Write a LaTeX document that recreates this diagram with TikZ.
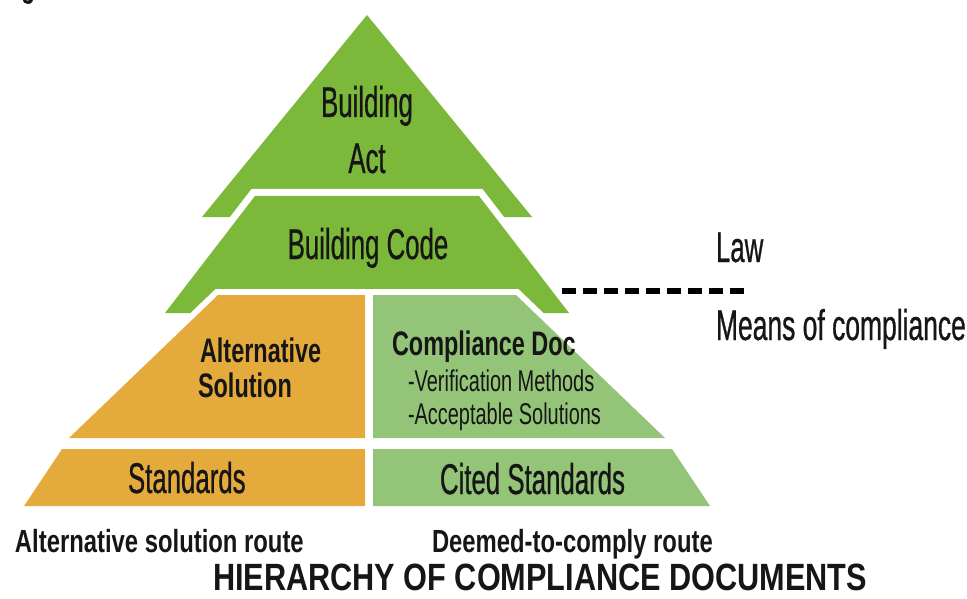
\documentclass[tikz,border=0pt]{standalone}
\usepackage{fontspec}
\setmainfont{Liberation Sans}
% condensed cuts of the sans face used for all labels
\newfontfamily\tierfont[FakeStretch=0.60, FakeBold=0.6]{Liberation Sans}
\newfontfamily\docfont[FakeStretch=0.69]{Liberation Sans}
\newfontfamily\subfont[FakeStretch=0.665]{Liberation Sans}
\newfontfamily\routefont[FakeStretch=0.745]{Liberation Sans}
\newfontfamily\titlefont[FakeStretch=0.807]{Liberation Sans}

\definecolor{actgreen}{RGB}{124,184,58}
\definecolor{docgreen}{RGB}{147,196,119}
\definecolor{altorange}{RGB}{229,170,60}
\definecolor{inkblack}{RGB}{22,22,22}

\tikzset{
  halo/.style={fill=white, draw=white, line width=#1, line join=miter},
  tierfill/.style={fill=#1},
  lbl/.style={inner sep=0pt, outer sep=0pt, anchor=base west, text=inkblack},
  clbl/.style={inner sep=0pt, outer sep=0pt, anchor=base, text=inkblack},
  bigtxt/.style={font=\tierfont\fontsize{43}{48}\selectfont},
  boldtxt/.style={font=\docfont\bfseries\fontsize{34}{40}\selectfont},
  subtxt/.style={font=\subfont\fontsize{30}{34}\selectfont},
  routetxt/.style={font=\routefont\bfseries\fontsize{32}{36}\selectfont},
  titletxt/.style={font=\titlefont\bfseries\fontsize{38}{42}\selectfont},
  divider/.style={draw=black, line width=6pt, dash pattern=on 14pt off 7pt}
}

\begin{document}
\begin{tikzpicture}[x=1pt, y=-1pt]
\useasboundingbox (0,0) rectangle (967,599);

% apex: Building Act
\path[tierfill=actgreen] (367,15) -- (532,217) -- (202,217) -- cycle;

% second tier: Building Code
\path[halo=14pt] (255,196) -- (479,196) -- (569,313) -- (165,313) -- cycle;
\path[tierfill=actgreen] (255,196) -- (479,196) -- (569,313) -- (165,313) -- cycle;

% third tier: alternative solution / compliance documents
\path[halo=12pt] (218,295) -- (365,295) -- (365,438) -- (69,438) -- cycle;
\path[halo=12pt] (373,295) -- (516,295) -- (665,438) -- (373,438) -- cycle;
\path[tierfill=altorange] (218,295) -- (365,295) -- (365,438) -- (69,438) -- cycle;
\path[tierfill=docgreen] (373,295) -- (516,295) -- (665,438) -- (373,438) -- cycle;

% base tier: standards
\path[tierfill=altorange] (62,449) -- (365,449) -- (365,506) -- (24,506) -- cycle;
\path[tierfill=docgreen] (373,449) -- (672,449) -- (710,506) -- (373,506) -- cycle;

% fragment of the line above
\node[lbl, bigtxt] (topg) at (21,-5) {g};

% tier labels
\node[clbl, bigtxt] (actA) at (367,117) {Building};
\node[clbl, bigtxt] (actB) at (367,173) {Act};
\node[clbl, bigtxt] (code) at (368,259) {Building Code};

\node[lbl, boldtxt] (altA) at (200,362) {Alternative};
\node[lbl, boldtxt] (altB) at (198,397) {Solution};

\node[lbl, boldtxt] (cdoc) at (392,355) {Compliance Doc};
\node[lbl, subtxt] (vm) at (408,391) {-Verification Methods};
\node[lbl, subtxt] (as) at (408,424) {-Acceptable Solutions};

\node[lbl, bigtxt] (std) at (128,493) {Standards};
\node[lbl, bigtxt] (cstd) at (440,494) {Cited Standards};

% law / means of compliance boundary
\coordinate (divL) at (562,291);
\coordinate (divR) at (748,291);
\draw[divider] (divL) -- (divR);
\node[lbl, bigtxt] (law) at (716,262) {Law};
\node[lbl, bigtxt, font=\tierfont\fontsize{43}{48}\selectfont\addfontfeatures{FakeStretch=0.615}] (moc) at (716,340) {Means of compliance};

% routes and title
\node[lbl, routetxt] (routeA) at (15,552) {Alternative solution route};
\node[lbl, routetxt] (routeB) at (432,552) {Deemed-to-comply route};
\node[lbl, titletxt] (title) at (213,590) {HIERARCHY OF COMPLIANCE DOCUMENTS};
\end{tikzpicture}
\end{document}
